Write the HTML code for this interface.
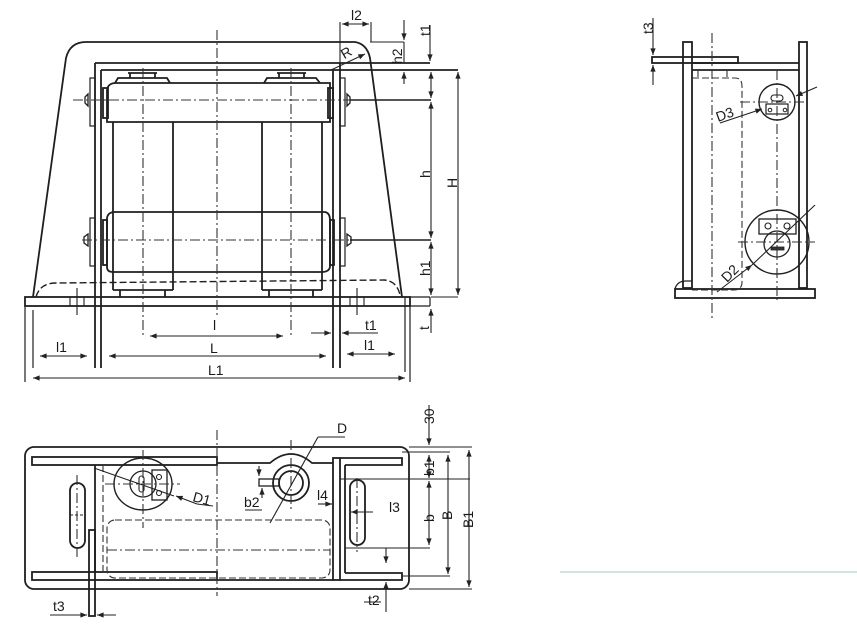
<!DOCTYPE html>
<html><head><meta charset="utf-8"><style>
html,body{margin:0;padding:0;background:#fff;}
svg{display:block;}
text{font-family:"Liberation Sans",sans-serif;font-size:14px;fill:#1a1a1a;}
</style></head><body>
<svg width="857" height="642" viewBox="0 0 857 642" xmlns="http://www.w3.org/2000/svg">
<defs>
<marker id="a" viewBox="0 0 10 10" refX="10" refY="5" markerWidth="8" markerHeight="6" orient="auto-start-reverse"><path d="M0,1 L10,5 L0,9 z" fill="#222"/></marker>
</defs>
<rect width="857" height="642" fill="#fff"/>
<line x1="560" y1="572" x2="857" y2="572" stroke="#cfe7e4" stroke-width="2"/>
<g fill="none" stroke="#1f1f1f" stroke-width="1.8">
<!-- FRONT VIEW -->
<path d="M33,297 L66,58 Q70,42 86,42 L355,42 Q367,44 370,58 L402,297"/>
<rect x="25" y="297" width="385" height="9"/>
<line x1="410" y1="297" x2="430" y2="297" stroke-width="1.2"/>
<line x1="430" y1="297" x2="430" y2="306" stroke-width="1.2"/>
<line x1="410" y1="306" x2="430" y2="306" stroke-width="1.2"/>
<path d="M36,297 Q40,283 56,283 L384,280 Q397,281 400,295" stroke-dasharray="7,3" stroke-width="1.4"/>
<line x1="95" y1="63" x2="95" y2="368"/><line x1="101" y1="70" x2="101" y2="368"/>
<line x1="333" y1="70" x2="333" y2="368"/><line x1="340" y1="63" x2="340" y2="368"/>
<line x1="95" y1="63" x2="430" y2="63"/><line x1="101" y1="70" x2="458" y2="70"/>
<line x1="405" y1="297" x2="405" y2="372" stroke-width="1.2"/><line x1="410" y1="306" x2="410" y2="382" stroke-width="1.2"/>
<line x1="25" y1="306" x2="25" y2="382" stroke-width="1.2"/><line x1="33" y1="310" x2="33" y2="368" stroke-width="1.2"/>
<!-- top roller -->
<path d="M107,122 L107,90 Q108,83 116,83 L330,83 L330,122 Z"/>
<path d="M115,83 L118,78 L167,78 L170,83" /><line x1="130" y1="73" x2="130" y2="78"/><line x1="155" y1="73" x2="155" y2="78"/><line x1="128" y1="73" x2="157" y2="73"/>
<path d="M264,83 L267,78 L316,78 L320,83" /><line x1="279" y1="73" x2="279" y2="78"/><line x1="304" y1="73" x2="304" y2="78"/><line x1="277" y1="73" x2="306" y2="73"/>
<rect x="103" y="88" width="5" height="30"/><rect x="328" y="88" width="5" height="30"/>
<!-- vertical rollers -->
<line x1="113" y1="122" x2="113" y2="290"/><line x1="173" y1="122" x2="173" y2="290"/><line x1="113" y1="290" x2="173" y2="290"/>
<line x1="262" y1="122" x2="262" y2="290"/><line x1="322" y1="122" x2="322" y2="290"/><line x1="262" y1="290" x2="322" y2="290"/>
<path d="M120,290 L120,297 M165,290 L165,297 M269,290 L269,297 M313,290 L313,297"/>
<!-- bottom roller -->
<path d="M107,267 L107,218 Q108,212 115,212 L325,212 Q330,213 330,220 L330,267 Q329,272 322,272 L113,272 Q107,272 107,267 Z"/>
<rect x="103" y="220" width="4" height="45"/><rect x="330" y="220" width="4" height="45"/>
<!-- side brackets & bolts -->
<rect x="90" y="78" width="5" height="48" stroke-width="1.2"/><rect x="340" y="78" width="5" height="48" stroke-width="1.2"/>
<rect x="90" y="218" width="5" height="48" stroke-width="1.2"/><rect x="340" y="218" width="5" height="48" stroke-width="1.2"/>
<path d="M88,94 L85,97 L85,103 L88,106 Z M347,94 L350,97 L350,103 L347,106 Z M88,234 L84,237 L84,243 L88,246 Z M347,234 L351,237 L351,243 L347,246 Z" stroke-width="1.3"/>
<!-- bolts on base -->
<path d="M77,288 L77,315 M70,297 L70,306 M84,297 L84,306 M357,288 L357,315 M350,297 L350,306 M364,297 L364,306" stroke-width="1.1"/>
</g>
<g fill="none" stroke="#333" stroke-width="1.1" stroke-dasharray="10,3,2,3">
<line x1="217" y1="30" x2="217" y2="315"/>
<line x1="143" y1="68" x2="143" y2="335"/><line x1="291" y1="68" x2="291" y2="335"/>
<line x1="73" y1="100" x2="350" y2="100"/><line x1="82" y1="240" x2="350" y2="240"/>
</g>
<g fill="none" stroke="#1f1f1f" stroke-width="1.6">
<line x1="350" y1="100" x2="431" y2="100"/><line x1="350" y1="240" x2="431" y2="240"/>
<line x1="431" y1="297" x2="458" y2="297" stroke-width="1.1"/>
</g>
<g fill="none" stroke="#222" stroke-width="1.1">
<line x1="431" y1="72" x2="431" y2="98" marker-start="url(#a)" marker-end="url(#a)"/>
<line x1="431" y1="102" x2="431" y2="238" marker-start="url(#a)" marker-end="url(#a)"/>
<line x1="431" y1="242" x2="431" y2="295" marker-start="url(#a)" marker-end="url(#a)"/>
<line x1="431" y1="333" x2="431" y2="309" marker-end="url(#a)"/>
<line x1="458" y1="72" x2="458" y2="295" marker-start="url(#a)" marker-end="url(#a)"/>
<line x1="430" y1="25" x2="430" y2="61" marker-end="url(#a)"/>
<line x1="404" y1="20" x2="404" y2="40" marker-end="url(#a)"/>
<line x1="404" y1="42" x2="404" y2="63"/><line x1="370" y1="42" x2="404" y2="42"/>
<line x1="404" y1="84" x2="404" y2="72" marker-end="url(#a)"/>
<line x1="340" y1="22" x2="340" y2="63"/><line x1="371" y1="22" x2="371" y2="42"/>
<line x1="342" y1="24" x2="369" y2="24" marker-start="url(#a)" marker-end="url(#a)"/>
<line x1="331" y1="70" x2="365" y2="54" marker-end="url(#a)"/>
<line x1="150" y1="336" x2="283" y2="336" marker-start="url(#a)" marker-end="url(#a)"/>
<line x1="311" y1="333" x2="331" y2="333" marker-end="url(#a)"/>
<line x1="378" y1="333" x2="342" y2="333" marker-end="url(#a)"/>
<line x1="40" y1="356" x2="87" y2="356" marker-start="url(#a)" marker-end="url(#a)"/>
<line x1="109" y1="356" x2="326" y2="356" marker-start="url(#a)" marker-end="url(#a)"/>
<line x1="347" y1="354" x2="395" y2="354" marker-start="url(#a)" marker-end="url(#a)"/>
<line x1="33" y1="378" x2="405" y2="378" marker-start="url(#a)" marker-end="url(#a)"/>
</g>
<g>
<text x="351" y="20">l2</text>
<text x="341" y="57" transform="rotate(-30 347 52)">R</text>
<text x="213" y="330">l</text>
<text x="365" y="330">t1</text>
<text x="210" y="353">L</text>
<text x="56" y="352">l1</text>
<text x="364" y="350">l1</text>
<text x="208" y="375">L1</text>
<text transform="translate(430,36) rotate(-90)">t1</text>
<text transform="translate(402,64) rotate(-90)">h2</text>
<text transform="translate(430,178) rotate(-90)">h</text>
<text transform="translate(457,188) rotate(-90)">H</text>
<text transform="translate(430,276) rotate(-90)">h1</text>
<text transform="translate(429,330) rotate(-90)">t</text>
</g>

<!-- PLAN VIEW -->
<g fill="none" stroke="#1f1f1f" stroke-width="1.8">
<rect x="25" y="447" width="384" height="142" rx="9"/>
<rect x="32" y="457" width="185" height="8"/>
<rect x="32" y="572" width="185" height="8"/>
<line x1="95" y1="465" x2="95" y2="572"/>
<rect x="89" y="530" width="6" height="86"/>
<path d="M217,463 L270,463 Q291,445 312,463 L333,463"/>
<line x1="217" y1="580" x2="333" y2="580"/>
<circle cx="291" cy="483" r="18"/><circle cx="291" cy="483" r="12"/>
<rect x="259" y="479" width="20" height="7" stroke-width="1.3"/>
<rect x="333" y="458" width="7" height="122"/>
<path d="M340,458 L402,458 L402,465 L345,465 M340,580 L402,580 L402,573 L345,573"/>
<path d="M345,465 L345,573" />
<rect x="70" y="483" width="15" height="65" rx="7.5"/>
<rect x="350" y="480" width="15" height="65" rx="7.5"/>
<ellipse cx="143" cy="484" rx="29" ry="26" stroke-width="1.4"/>
<circle cx="143" cy="484" r="13" stroke-width="1.3"/>
<rect x="139" y="476" width="5" height="16" rx="2.5" stroke-width="1.1"/>
<rect x="152" y="470" width="15" height="30" stroke-width="1.3"/>
<circle cx="159" cy="477" r="2.5" stroke-width="1.1"/><circle cx="159" cy="493" r="2.5" stroke-width="1.1"/>
</g>
<g fill="none" stroke="#333" stroke-width="1.1" stroke-dasharray="7,3">
<line x1="103" y1="465" x2="103" y2="572"/>
<rect x="107" y="520" width="223" height="58" rx="8"/>
</g>
<g fill="none" stroke="#333" stroke-width="1.1" stroke-dasharray="10,3,2,3">
<line x1="217" y1="430" x2="217" y2="596"/>
<line x1="143" y1="450" x2="143" y2="528"/><line x1="105" y1="484" x2="180" y2="484"/>
<line x1="291" y1="440" x2="291" y2="510"/>
<line x1="77" y1="475" x2="77" y2="558"/><line x1="357" y1="478" x2="357" y2="552"/>
<line x1="107" y1="550" x2="330" y2="550"/>
</g>
<g fill="none" stroke="#222" stroke-width="1.1">
<line x1="94" y1="468" x2="174" y2="496"/>
<line x1="197" y1="504" x2="176" y2="496" marker-end="url(#a)"/>
<line x1="213" y1="506" x2="197" y2="504"/>
<line x1="270" y1="523" x2="318" y2="437"/><line x1="318" y1="437" x2="345" y2="437"/>
<line x1="262" y1="498" x2="262" y2="488" marker-end="url(#a)"/>
<line x1="259" y1="466" x2="259" y2="476" marker-end="url(#a)"/>
<line x1="318" y1="504" x2="332" y2="504" marker-end="url(#a)"/>
<line x1="373" y1="512" x2="351" y2="512" marker-end="url(#a)"/>
<line x1="340" y1="479" x2="470" y2="479"/>
<line x1="345" y1="548" x2="430" y2="548"/>
<line x1="386" y1="548" x2="386" y2="563" marker-end="url(#a)"/>
<line x1="386" y1="612" x2="386" y2="582" marker-end="url(#a)"/>
<line x1="409" y1="447" x2="472" y2="447"/><line x1="409" y1="589" x2="472" y2="589"/>
<line x1="402" y1="452" x2="450" y2="452"/><line x1="402" y1="576" x2="450" y2="576"/>
<line x1="429" y1="405" x2="429" y2="445" marker-end="url(#a)"/>
<line x1="429" y1="455" x2="429" y2="478" marker-start="url(#a)" marker-end="url(#a)"/>
<line x1="429" y1="481" x2="429" y2="545" marker-start="url(#a)" marker-end="url(#a)"/>
<line x1="448" y1="455" x2="448" y2="574" marker-start="url(#a)" marker-end="url(#a)"/>
<line x1="469" y1="450" x2="469" y2="587" marker-start="url(#a)" marker-end="url(#a)"/>
<line x1="50" y1="615" x2="87" y2="615" marker-end="url(#a)"/>
<line x1="116" y1="615" x2="97" y2="615" marker-end="url(#a)"/>
<line x1="245" y1="510" x2="262" y2="510"/>
<line x1="364" y1="602" x2="381" y2="602"/>
<line x1="70" y1="515" x2="85" y2="515" stroke-dasharray="3,2"/>
</g>
<g>
<text x="337" y="433">D</text>
<text x="193" y="503" transform="rotate(15 200 498)">D1</text>
<text x="244" y="507">b2</text>
<text x="317" y="500">l4</text>
<text x="389" y="512">l3</text>
<text x="53" y="611">t3</text>
<text x="368" y="605">t2</text>
<text transform="translate(434,424) rotate(-90)">30</text>
<text transform="translate(434,476) rotate(-90)">b1</text>
<text transform="translate(434,522) rotate(-90)">b</text>
<text transform="translate(452,520) rotate(-90)">B</text>
<text transform="translate(473,528) rotate(-90)">B1</text>
</g>

<!-- SIDE VIEW -->
<g fill="none" stroke="#1f1f1f" stroke-width="1.8">
<rect x="683" y="42" width="9" height="246"/>
<rect x="799" y="42" width="8" height="246"/>
<rect x="652" y="57" width="86" height="6"/>
<line x1="692" y1="63" x2="799" y2="63"/><line x1="692" y1="70" x2="799" y2="70"/>
<rect x="675" y="289" width="140" height="9"/>
<path d="M675,289 Q677,281 686,281 L692,281" stroke-width="1.3"/>
<circle cx="777" cy="102" r="18" stroke-width="1.4"/>
<rect x="766" y="104" width="22" height="10" stroke-width="1.2"/>
<circle cx="770" cy="110" r="1.8" stroke-width="1"/><circle cx="785" cy="110" r="1.8" stroke-width="1"/>
<rect x="771" y="95" width="12" height="6" rx="3" stroke-width="1.1"/>
<circle cx="777" cy="242" r="32" stroke-width="1.4"/>
<circle cx="777" cy="244" r="13" stroke-width="1.3"/>
<rect x="759" y="219" width="37" height="15" stroke-width="1.3"/>
<circle cx="768" cy="226" r="3" stroke-width="1.1"/><circle cx="787" cy="226" r="3" stroke-width="1.1"/>
<rect x="771" y="247" width="13" height="3" fill="#333" stroke-width="0.8"/>
</g>
<g fill="none" stroke="#333" stroke-width="1.1" stroke-dasharray="7,3">
<path d="M692,78 L735,78 Q742,78 742,86 L742,282 Q742,290 734,290 L692,290"/>
<path d="M698,70 L698,78 M727,70 L727,78"/>
</g>
<g fill="none" stroke="#333" stroke-width="1.1" stroke-dasharray="10,3,2,3">
<line x1="712" y1="33" x2="712" y2="318"/>
<line x1="777" y1="70" x2="777" y2="300"/>
<line x1="740" y1="102" x2="805" y2="102"/>
<line x1="738" y1="242" x2="815" y2="242"/>
</g>
<g fill="none" stroke="#222" stroke-width="1.1">
<line x1="653" y1="18" x2="653" y2="55" marker-end="url(#a)"/>
<line x1="653" y1="85" x2="653" y2="65" marker-end="url(#a)"/>
<line x1="720" y1="123" x2="762" y2="109" marker-end="url(#a)"/>
<line x1="817" y1="87" x2="796" y2="96" marker-end="url(#a)"/>
<line x1="717" y1="292" x2="752" y2="265" marker-end="url(#a)"/>
<line x1="752" y1="265" x2="815" y2="205"/>
</g>
<text transform="translate(653,34) rotate(-90)">t3</text>
<text transform="translate(718,122) rotate(-20)">D3</text>
<text transform="translate(727,283) rotate(-45)">D2</text>
</svg>
</body></html>
